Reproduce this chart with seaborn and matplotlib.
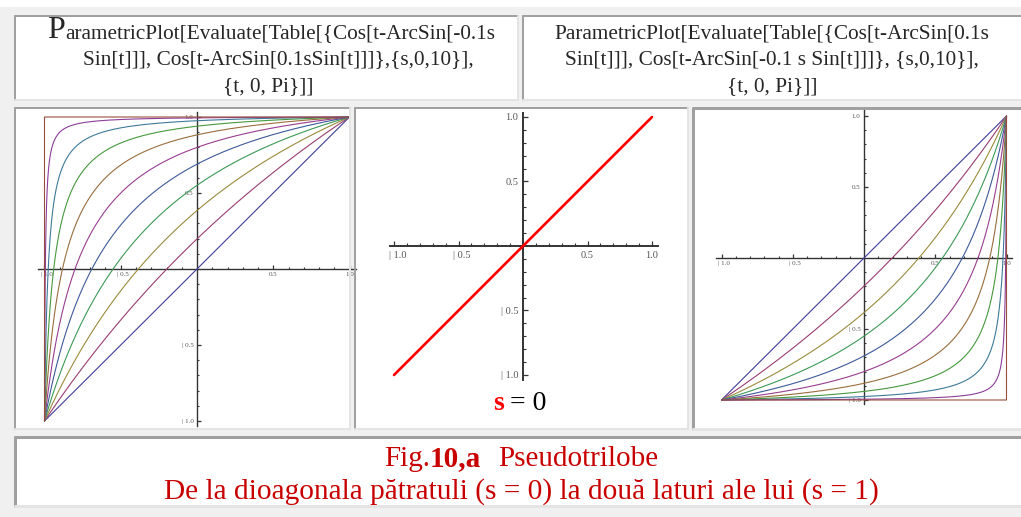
import numpy as np
import pandas as pd
import matplotlib
matplotlib.use("Agg")
import matplotlib.pyplot as plt
import matplotlib.transforms as mtransforms
from matplotlib.patches import Rectangle
from matplotlib.lines import Line2D
import seaborn as sns

# ---------------- data ----------------
S_VALUES = [0, 1, 2, 3, 4, 5, 6, 7, 8, 9, 10]          # Table[..., {s,0,10}]
T_START, T_END = 0.0, np.pi                             # {t, 0, Pi}
CURVE_COLORS = [
    (0.247, 0.240, 0.600), (0.600, 0.240, 0.443), (0.600, 0.547, 0.240),
    (0.240, 0.600, 0.337), (0.240, 0.353, 0.600), (0.600, 0.240, 0.563),
    (0.600, 0.427, 0.240), (0.275, 0.600, 0.240), (0.240, 0.479, 0.600),
    (0.549, 0.240, 0.600), (0.600, 0.306, 0.240),
]
MIDDLE_X = [-1.0, 1.0]       # s = 0 : the diagonal
MIDDLE_Y = [-1.0, 1.0]
MAJOR_TICKS = [-1.0, -0.5, 0.5, 1.0]
X_TICK_LABELS = ["| 1.0", "| 0.5", "0.5", "1.0"]
Y_TICK_LABELS = ["| 1.0", "| 0.5", "0.5", "1.0"]
MINOR_TICKS = [-0.9, -0.8, -0.7, -0.6, -0.4, -0.3, -0.2, -0.1,
               0.1, 0.2, 0.3, 0.4, 0.6, 0.7, 0.8, 0.9]

HEADER_LEFT = ["arametricPlot[Evaluate[Table[{Cos[t-ArcSin[-0.1s",
               "Sin[t]]], Cos[t-ArcSin[0.1sSin[t]]]},{s,0,10}],",
               "{t, 0, Pi}]]"]
HEADER_RIGHT = ["ParametricPlot[Evaluate[Table[{Cos[t-ArcSin[0.1s",
                "Sin[t]]], Cos[t-ArcSin[-0.1 s Sin[t]]]}, {s,0,10}],",
                "{t, 0, Pi}]]"]
CAPTION_1 = ["Fig.", "10,a", "Pseudotrilobe"]
CAPTION_2 = "De la dioagonala pătratuli (s = 0) la două laturi ale lui (s = 1)"

# ---------------- style ----------------
sns.set_style("white")
plt.rcParams["font.family"] = ["Liberation Serif", "DejaVu Serif"]

W, H = 1021, 517
fig = plt.figure(figsize=(W / 100, H / 100), dpi=100, facecolor="#f0f0f0")
renderer = fig.canvas.get_renderer()


def fx(x):
    return x / W


def fy(y):
    return 1 - y / H


def cell(x0, y0, x1, y1, dark="#a0a0a0", light="#e4e4e4", lw=2.0):
    fig.add_artist(Rectangle((fx(x0), fy(y1)), fx(x1 - x0), (y1 - y0) / H,
                             transform=fig.transFigure, facecolor="white",
                             edgecolor="none", zorder=0))
    for xs, ys, c in [((x0, x1), (y0, y0), dark), ((x0, x0), (y0, y1), dark),
                      ((x0, x1), (y1, y1), light), ((x1, x1), (y0, y1), light)]:
        fig.add_artist(Line2D([fx(v) for v in xs], [fy(v) for v in ys],
                              transform=fig.transFigure, color=c, lw=lw * 0.72,
                              zorder=0.5))


def segments(segs, cx, yb, **common):
    arts, widths = [], []
    for txt, kw, gap in segs:
        t = fig.text(0, fy(yb), txt, va="baseline", ha="left", **common, **kw)
        arts.append((t, gap))
        widths.append(t.get_window_extent(renderer).width)
    total = sum(widths) + sum(g for _, g in arts)
    x = cx - total / 2
    for (t, gap), w in zip(arts, widths):
        t.set_x(fx(x))
        x += w + gap


# top strip & cells
fig.add_artist(Rectangle((0, fy(7)), 1, 7 / H, transform=fig.transFigure,
                         facecolor="white", edgecolor="none", zorder=0))
cell(15, 16, 518, 100)
cell(523, 16, 1022, 100)
cell(15, 108, 350, 429)
cell(355, 108, 688, 429)
cell(693, 108, 1022, 429, lw=3)
cell(15, 437, 1022, 506, lw=3)

# headers
HFS = 15.3
segments([("P", {"fontsize": 23}, 0), (HEADER_LEFT[0], {"fontsize": HFS}, 0)], 271, 38)
segments([(HEADER_LEFT[1], {"fontsize": HFS}, 0)], 278, 64)
segments([(HEADER_LEFT[2], {"fontsize": HFS}, 0)], 268, 91)
for i, yb in enumerate([38, 64, 91]):
    segments([(HEADER_RIGHT[i], {"fontsize": HFS}, 0)], 772, yb)

# caption
RED = "#c80000"
segments([(CAPTION_1[0], {"fontsize": 21}, 0),
          (CAPTION_1[1], {"fontsize": 21, "fontweight": "bold"}, 17),
          (CAPTION_1[2], {"fontsize": 21}, 0)], 521, 466, color=RED)
segments([(CAPTION_2, {"fontsize": 21.2}, 0)], 521, 499, color=RED)


# ---------------- curve tables ----------------
def pseudotrilobe(swap):
    rows = []
    t = np.linspace(T_START, T_END, 1500)
    for s in S_VALUES:
        a = np.arcsin(np.clip(0.1 * s * np.sin(t), -1, 1))
        xa = np.cos(t + a)   # Cos[t-ArcSin[-0.1 s Sin[t]]]
        ya = np.cos(t - a)   # Cos[t-ArcSin[ 0.1 s Sin[t]]]
        x, y = (ya, xa) if swap else (xa, ya)
        rows.append(pd.DataFrame({"x": x, "y": y, "s": s, "i": np.arange(len(t))}))
    return pd.concat(rows, ignore_index=True)


def make_axes(box, origin, scale, xb, yb, fs, pad, axis_lw, shift, tl):
    x0, y0, x1, y1 = box
    ox, oy = origin
    sx, sy = scale
    ax = fig.add_axes([fx(x0), fy(y1), fx(x1 - x0), (y1 - y0) / H])
    ax.set_xlim((x0 - ox) / sx, (x1 - ox) / sx)
    ax.set_ylim((oy - y1) / sy, (oy - y0) / sy)
    ax.patch.set_visible(False)
    for k in ["top", "right"]:
        ax.spines[k].set_visible(False)
    for k in ["left", "bottom"]:
        ax.spines[k].set_position(("data", 0))
        ax.spines[k].set_color("#333333")
        ax.spines[k].set_linewidth(axis_lw)
        ax.spines[k].set_zorder(1)
    ax.spines["bottom"].set_bounds(*xb)
    ax.spines["left"].set_bounds(*yb)
    ax.set_xticks(MAJOR_TICKS, labels=X_TICK_LABELS)
    ax.set_yticks(MAJOR_TICKS, labels=Y_TICK_LABELS)
    ax.set_xticks(MINOR_TICKS, minor=True)
    ax.set_yticks(MINOR_TICKS, minor=True)
    ax.tick_params(which="both", bottom=True, left=True, top=False, right=False)
    ax.tick_params(which="major", direction="in", length=tl, width=0.9,
                   color="#333333", labelsize=fs, labelcolor="#555555", pad=pad)
    ax.tick_params(which="minor", direction="in", length=tl * 0.6, width=0.8,
                   color="#333333")
    off = mtransforms.ScaledTranslation(shift / 72, 0, fig.dpi_scale_trans)
    for lab in ax.get_xticklabels()[:2]:
        lab.set_transform(lab.get_transform() + off)
    return ax


palette = dict(zip(S_VALUES, CURVE_COLORS))

# left panel
axL = make_axes((15, 108, 350, 429), (197, 269), (152.5, 152), (-1.04, 1.04),
                (-1.03, 1.03), 5, 2.5, 1.0, 1.6, 2.8)
sns.lineplot(data=pseudotrilobe(False), x="x", y="y", hue="s", palette=palette,
             sort=False, estimator=None, units="s", legend=False, lw=0.8, ax=axL)
axL.set_xlabel(""); axL.set_ylabel("")

# middle panel
axM = make_axes((355, 108, 688, 429), (523, 246), (129, 129), (-1.03, 1.05),
                (-1.04, 1.03), 7.5, 3.5, 1.4, 2.4, 3.4)
sns.lineplot(x=MIDDLE_X, y=MIDDLE_Y, color="#ff0000", lw=1.9, ax=axM)
axM.set_xlabel(""); axM.set_ylabel("")
segments([("s", {"fontsize": 20, "fontweight": "bold", "color": "#ff0000"}, 6),
          ("= 0", {"fontsize": 20, "color": "black"}, 0)], 520, 410)

# right panel
axR = make_axes((693, 108, 1022, 429), (864, 258), (142.5, 142), (-1.04, 1.04),
                (-1.03, 1.04), 5, 2.5, 1.0, 1.6, 2.8)
sns.lineplot(data=pseudotrilobe(True), x="x", y="y", hue="s", palette=palette,
             sort=False, estimator=None, units="s", legend=False, lw=0.8, ax=axR)
axR.set_xlabel(""); axR.set_ylabel("")

fig.savefig("out.png", dpi=100, facecolor=fig.get_facecolor())
